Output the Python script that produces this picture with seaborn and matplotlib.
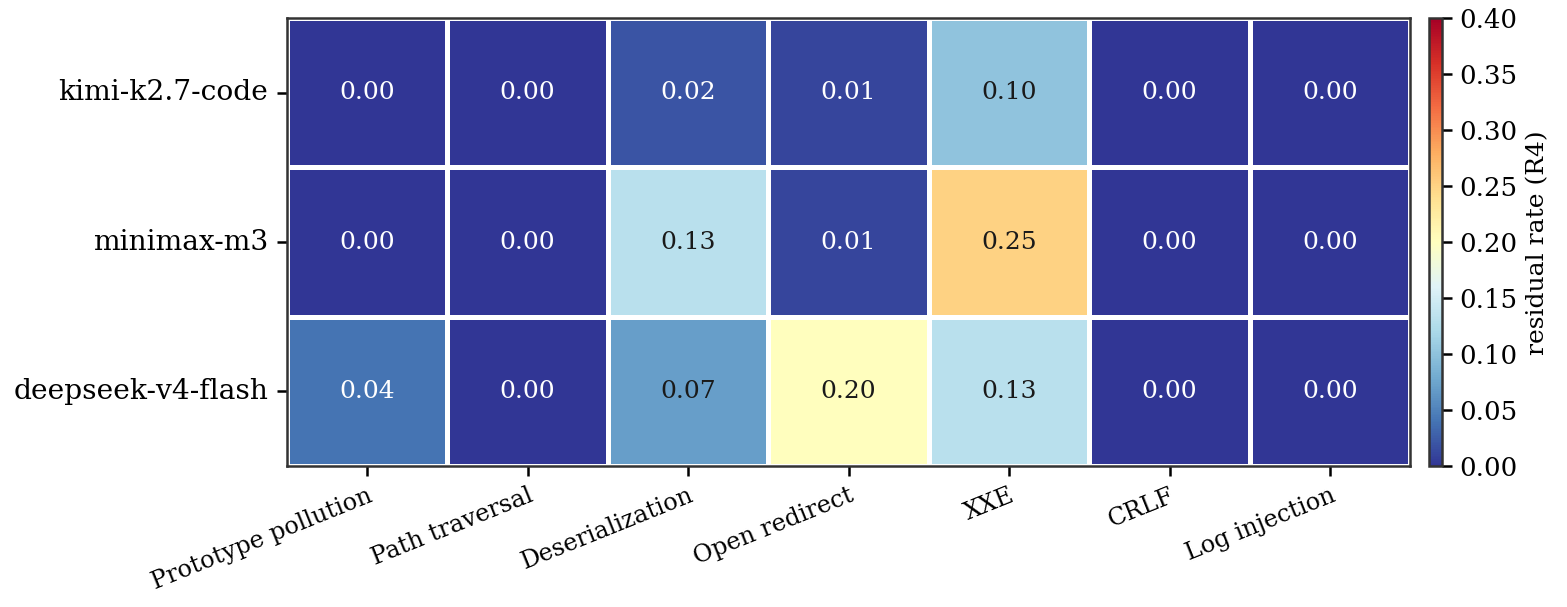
import numpy as np
import pandas as pd
import matplotlib
matplotlib.use('Agg')
import matplotlib.pyplot as plt
import seaborn as sns

models = ['kimi-k2.7-code', 'minimax-m3', 'deepseek-v4-flash']
vulns = ['Prototype pollution', 'Path traversal', 'Deserialization', 'Open redirect',
         'XXE', 'CRLF', 'Log injection']
kimi = [0.00, 0.00, 0.02, 0.01, 0.10, 0.00, 0.00]
minimax = [0.00, 0.00, 0.13, 0.01, 0.25, 0.00, 0.00]
deepseek = [0.04, 0.00, 0.07, 0.20, 0.13, 0.00, 0.00]

df = pd.DataFrame([kimi, minimax, deepseek], index=models, columns=vulns)

sns.set_theme(style='ticks')
plt.rcParams['font.family'] = ['DejaVu Serif']
plt.rcParams['axes.edgecolor'] = '#333333'
plt.rcParams['text.color'] = 'black'
plt.rcParams['xtick.color'] = 'black'
plt.rcParams['ytick.color'] = 'black'
plt.rcParams['axes.labelcolor'] = 'black'

fig = plt.figure(figsize=(10.447, 4.047), dpi=150)
ax = fig.add_axes([0.183, 0.232, 0.717, 0.738])
cax = fig.add_axes([0.912, 0.232, 0.008, 0.738])

sns.heatmap(df, ax=ax, cbar_ax=cax, cmap='RdYlBu_r', vmin=0, vmax=0.4,
            annot=True, fmt='.2f', linewidths=1.5, linecolor='white',
            annot_kws={'size': 12},
            cbar_kws={'label': 'residual rate (R4)'})

# text colour: light on the dark blue cells, dark on the rest
for txt, v in zip(ax.texts, df.values.ravel()):
    txt.set_color('white' if v < 0.06 else '#1a1a1a')

for s in ax.spines.values():
    s.set_visible(True)
    s.set_color('#333333')
    s.set_linewidth(1.2)
cb = ax.collections[0].colorbar
cb.outline.set_edgecolor('#333333')
cb.outline.set_linewidth(1.2)
cb.ax.tick_params(labelsize=12.5, length=5, width=1.2)
cb.set_label('residual rate (R4)', fontsize=12)

ax.set_xlabel('')
ax.set_ylabel('')
ax.tick_params(axis='y', labelsize=13.5, rotation=0, length=5, width=1.2, pad=4)
ax.tick_params(axis='x', labelsize=11.5, length=5, width=1.2)
plt.setp(ax.get_xticklabels(), rotation=22, ha='right', rotation_mode='anchor')

fig.savefig('out.png', dpi=150)
